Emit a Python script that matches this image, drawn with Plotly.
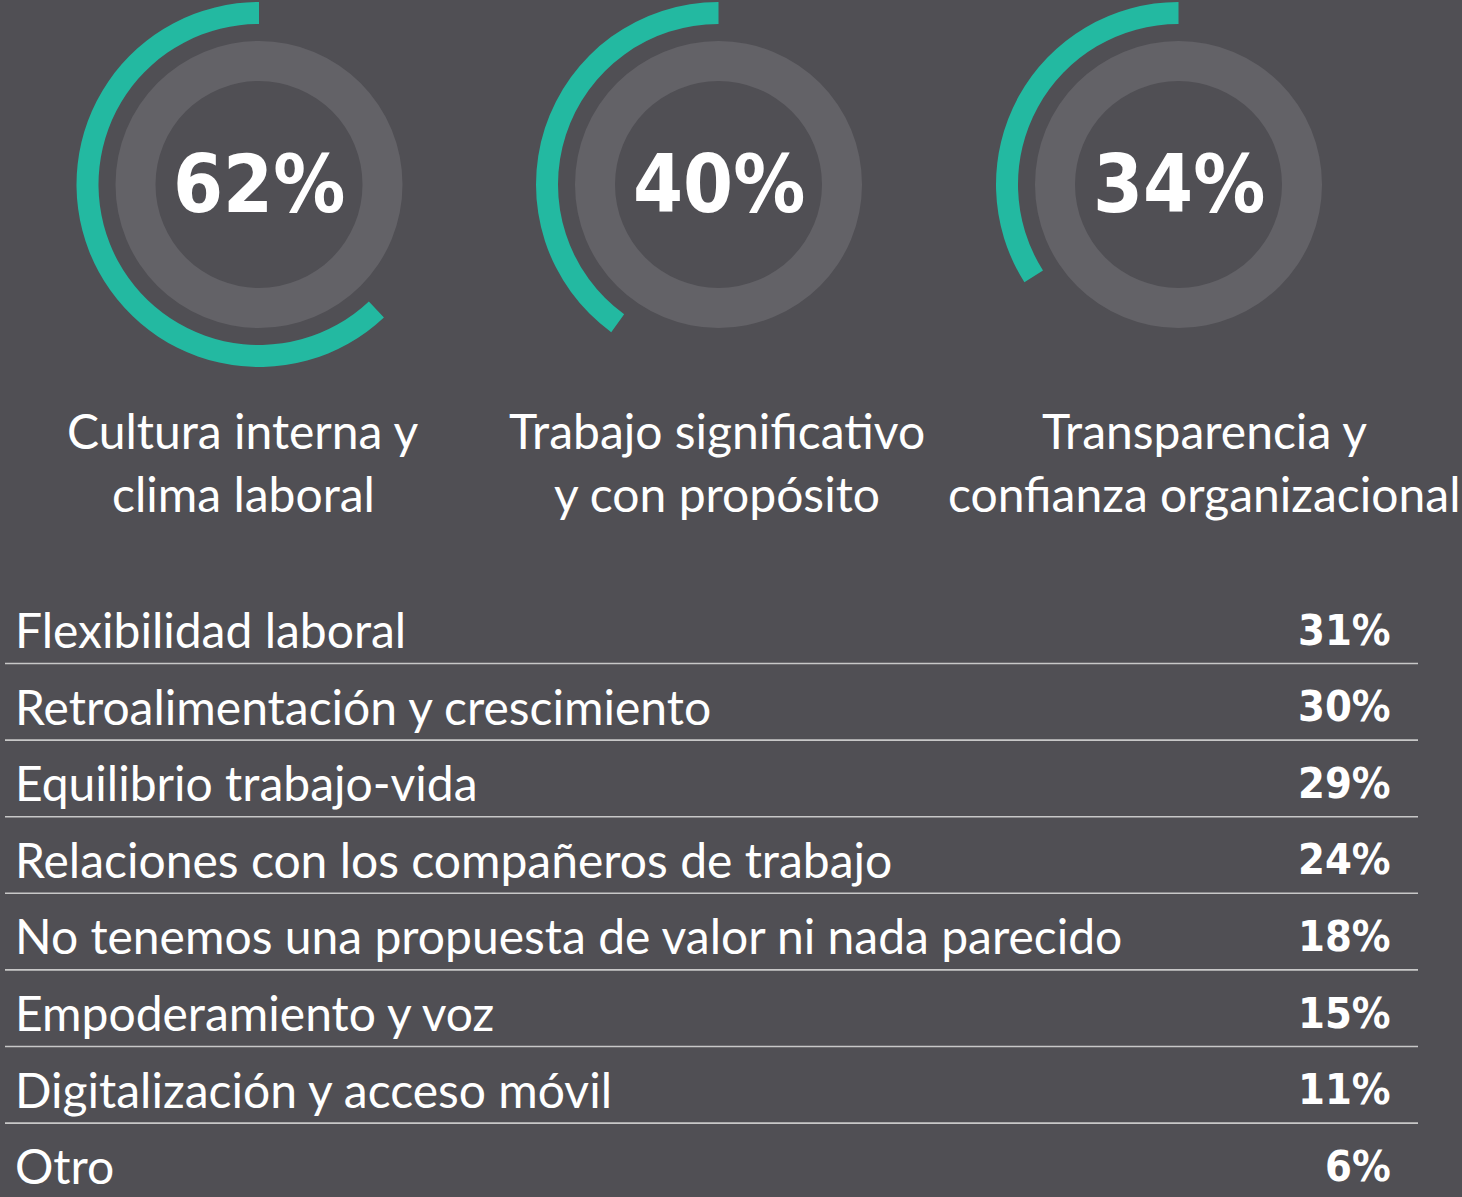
import plotly.graph_objects as go

# ---------------- data ----------------
gauge_values = [62, 40, 34]
gauge_labels = [
    ["Cultura interna y", "clima laboral"],
    ["Trabajo significativo", "y con propósito"],
    ["Transparencia y", "confianza organizacional"],
]
row_labels = [
    "Flexibilidad laboral",
    "Retroalimentación y crescimiento",
    "Equilibrio trabajo-vida",
    "Relaciones con los compañeros de trabajo",
    "No tenemos una propuesta de valor ni nada parecido",
    "Empoderamiento y voz",
    "Digitalización y acceso móvil",
    "Otro",
]
row_values = [31, 30, 29, 24, 18, 15, 11, 6]

# ---------------- layout constants ----------------
W, H = 1462, 1197
BG = "#504f54"
TEAL = "#23b9a1"
RING = "#636267"
LINE = "#c8c8c8"
TEXT_FONT = "Lato, 'Open Sans', sans-serif"
NUM_FONT = "'DejaVu Sans Condensed', 'Liberation Sans Narrow', sans-serif"

gauge_cx = [259, 718.5, 1178.5]
gauge_cy = 184.5
teal_r_out, teal_r_in = 182.5, 160.5
ring_r_out, ring_r_in = 143.5, 103.5
label_cx = [243, 716.5, 1204]
label_cy = [430, 493]

row_y0 = 629.5
row_step = 76.6
line_offset = 34
label_x = 13
value_x = 1393
line_x0, line_x1 = 5, 1418


def domain(cx, cy, r):
    return dict(
        x=[(cx - r) / W, (cx + r) / W],
        y=[1 - (cy + r) / H, 1 - (cy - r) / H],
    )


fig = go.Figure()

annotations = []
for i, v in enumerate(gauge_values):
    cx = gauge_cx[i]
    # inner gray ring
    fig.add_trace(go.Pie(
        values=[100],
        marker=dict(colors=[RING], line=dict(width=0)),
        hole=ring_r_in / ring_r_out,
        domain=domain(cx, gauge_cy, ring_r_out),
        textinfo="none", hoverinfo="skip", sort=False, showlegend=False,
    ))
    # teal progress arc: remainder first (clockwise from 12 o'clock), so the
    # teal share ends at 12 o'clock, i.e. runs counter-clockwise from the top
    fig.add_trace(go.Pie(
        values=[100 - v, v],
        marker=dict(colors=["rgba(0,0,0,0)", TEAL], line=dict(width=0)),
        hole=teal_r_in / teal_r_out,
        domain=domain(cx, gauge_cy, teal_r_out),
        direction="clockwise", rotation=0,
        textinfo="none", hoverinfo="skip", sort=False, showlegend=False,
    ))
    annotations.append(dict(
        x=cx, y=gauge_cy, xref="x", yref="y", text=f"{v}%",
        showarrow=False, xanchor="center", yanchor="middle",
        font=dict(family=NUM_FONT, size=80, color="white", weight="bold"),
    ))
    for j, line in enumerate(gauge_labels[i]):
        annotations.append(dict(
            x=label_cx[i], y=label_cy[j], xref="x", yref="y", text=line,
            showarrow=False, xanchor="center", yanchor="middle",
            font=dict(family=TEXT_FONT, size=48, color="white"),
        ))

for k, (lab, val) in enumerate(zip(row_labels, row_values)):
    yc = row_y0 + k * row_step
    annotations.append(dict(
        x=label_x, y=yc, xref="x", yref="y", text=lab,
        showarrow=False, xanchor="left", yanchor="middle",
        font=dict(family=TEXT_FONT, size=48, color="white"),
    ))
    annotations.append(dict(
        x=value_x, y=yc, xref="x", yref="y", text=f"{val}%",
        showarrow=False, xanchor="right", yanchor="middle",
        font=dict(family=NUM_FONT, size=43, color="white", weight="bold"),
    ))
    if k < len(row_labels) - 1:
        ly = yc + line_offset
        fig.add_trace(go.Scatter(
            x=[line_x0, line_x1], y=[ly, ly], mode="lines",
            line=dict(color=LINE, width=1.6),
            hoverinfo="skip", showlegend=False,
        ))

fig.update_layout(
    width=W, height=H,
    margin=dict(l=0, r=0, t=0, b=0),
    paper_bgcolor=BG, plot_bgcolor=BG,
    xaxis=dict(range=[0, W], visible=False, fixedrange=True),
    yaxis=dict(range=[H, 0], visible=False, fixedrange=True),
    annotations=annotations,
    showlegend=False,
)

fig.write_html("out.html", config={"displayModeBar": False},
               post_script="document.body.style.margin='0';document.body.style.background='%s';" % BG)
